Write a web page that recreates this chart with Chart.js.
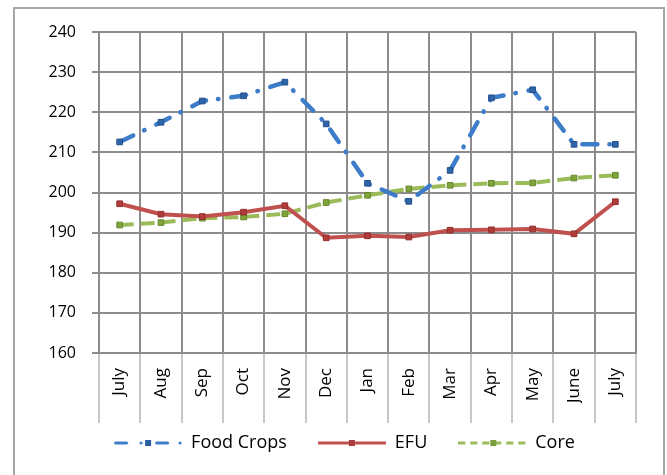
<!DOCTYPE html>
<html>
<head>
<meta charset="utf-8">
<script src="https://cdn.jsdelivr.net/npm/chart.js@4.4.0/dist/chart.umd.min.js"></script>
<style>
  html, body { margin: 0; padding: 0; background: #fff; }
  #wrap { position: relative; width: 667px; height: 475px; overflow: hidden; }
  #frame { position: absolute; left: 13px; top: 7px; width: 648px; height: 500px; border: 2px solid #a6a6a6; }
  #chart { position: absolute; left: 0; top: 0; }
</style>
</head>
<body>
<div id="wrap">
  <div id="frame"></div>
  <canvas id="chart" width="667" height="475"></canvas>
</div>
<script>
// months, July to July
const months = ['July', 'Aug', 'Sep', 'Oct', 'Nov', 'Dec', 'Jan', 'Feb', 'Mar', 'Apr', 'May', 'June', 'July'];

const foodCrops = [212.6, 217.5, 222.8, 224.1, 227.5, 217.1, 202.3, 197.8, 205.5, 223.6, 225.6, 212.0, 212.0];
const efu       = [197.2, 194.6, 194.0, 195.1, 196.7, 188.7, 189.2, 188.9, 190.6, 190.7, 190.9, 189.7, 197.7];
const core      = [191.9, 192.5, 193.6, 193.9, 194.7, 197.5, 199.3, 200.9, 201.8, 202.3, 202.4, 203.6, 204.3];

const yMin = 160;
const yMax = 240;
const yStep = 10;

const FONT = 'Open Sans';

// legend samples: little line pictures like the Excel legend keys
function sample(draw) {
    const c = document.createElement('canvas');
    c.width = 68;
    c.height = 12;
    draw(c.getContext('2d'));
    return c;
}

const legendKeys = [
    sample((g) => {
        g.strokeStyle = '#3d7cc9';
        g.lineWidth = 3;
        g.lineCap = 'round';
        g.beginPath();
        g.moveTo(1.5, 6); g.lineTo(12.5, 6);
        g.moveTo(42.5, 6); g.lineTo(53.5, 6);
        g.stroke();
        g.fillStyle = '#3d7cc9';
        g.beginPath(); g.arc(27, 6, 1.6, 0, Math.PI * 2); g.fill();
        g.beginPath(); g.arc(66, 6, 1.6, 0, Math.PI * 2); g.fill();
        g.fillStyle = '#2b5e9e';
        g.fillRect(31, 3, 6, 6);
    }),
    sample((g) => {
        g.strokeStyle = '#c0504d';
        g.lineWidth = 3;
        g.beginPath(); g.moveTo(0, 6); g.lineTo(68, 6); g.stroke();
        g.fillStyle = '#a93c39';
        g.fillRect(31, 3, 6, 6);
    }),
    sample((g) => {
        g.strokeStyle = '#9bbb59';
        g.lineWidth = 3;
        g.setLineDash([7, 5]);
        g.beginPath(); g.moveTo(0, 6); g.lineTo(68, 6); g.stroke();
        g.fillStyle = '#7a9e3a';
        g.fillRect(32, 3, 6, 6);
    }),
];

// nudge the legend row sideways, Excel centres it under the plot, not the canvas
const legendShift = {
    id: 'legendShift',
    afterLayout(chart) {
        chart.legend.left += 4.5;
        chart.legend.right += 4.5;
    },
};

new Chart(document.getElementById('chart'), {
    type: 'line',
    data: {
        labels: months,
        datasets: [
            {
                label: 'Food Crops',
                data: foodCrops,
                borderColor: '#3d7cc9',
                borderWidth: 4.5,
                borderDash: [15, 12, 0.5, 13],
                borderCapStyle: 'round',
                pointStyle: 'rect',
                pointRadius: 4,
                pointBackgroundColor: '#2e64a8',
                pointBorderColor: '#24508a',
                pointBorderWidth: 1,
            },
            {
                label: 'EFU',
                data: efu,
                borderColor: '#c0504d',
                borderWidth: 4,
                pointStyle: 'rect',
                pointRadius: 4,
                pointBackgroundColor: '#b03d3a',
                pointBorderColor: '#922f2c',
                pointBorderWidth: 1,
            },
            {
                label: 'Core',
                data: core,
                borderColor: '#9bbb59',
                borderWidth: 4,
                borderDash: [14, 7],
                pointStyle: 'rect',
                pointRadius: 4,
                pointBackgroundColor: '#7fa43c',
                pointBorderColor: '#66872c',
                pointBorderWidth: 1,
            },
        ],
    },
    plugins: [legendShift],
    options: {
        responsive: false,
        animation: false,
        layout: { padding: { left: 44, right: 31, top: 32, bottom: 13 } },
        plugins: {
            tooltip: { enabled: false },
            legend: {
                position: 'bottom',
                labels: {
                    usePointStyle: true,
                    pointStyleWidth: 68,
                    boxHeight: 12,
                    padding: 31,
                    color: '#000',
                    font: { family: FONT, size: 18 },
                    generateLabels(chart) {
                        const items = Chart.defaults.plugins.legend.labels.generateLabels(chart);
                        items.forEach((item, i) => { item.pointStyle = legendKeys[i]; });
                        return items;
                    },
                },
            },
        },
        scales: {
            x: {
                offset: true,
                grid: {
                    offset: true,
                    color: '#8c8c8c',
                    lineWidth: 2,
                    tickLength: 70,
                    tickColor: '#b4b4b4',
                    tickWidth: 1.5,
                },
                border: { color: '#8c8c8c', width: 2 },
                ticks: {
                    autoSkip: false,
                    minRotation: 90,
                    maxRotation: 90,
                    padding: -55,
                    color: '#000',
                    font: { family: FONT, size: 17 },
                },
                afterFit(scale) { scale.height = 50; },
            },
            y: {
                min: yMin,
                max: yMax,
                grid: { color: '#8c8c8c', lineWidth: 2, tickLength: 7 },
                border: { color: '#8c8c8c', width: 2 },
                ticks: {
                    stepSize: yStep,
                    padding: 16,
                    color: '#000',
                    font: { family: FONT, size: 16 },
                },
                afterFit(scale) { scale.width = 55; },
            },
        },
    },
});
</script>
</body>
</html>
